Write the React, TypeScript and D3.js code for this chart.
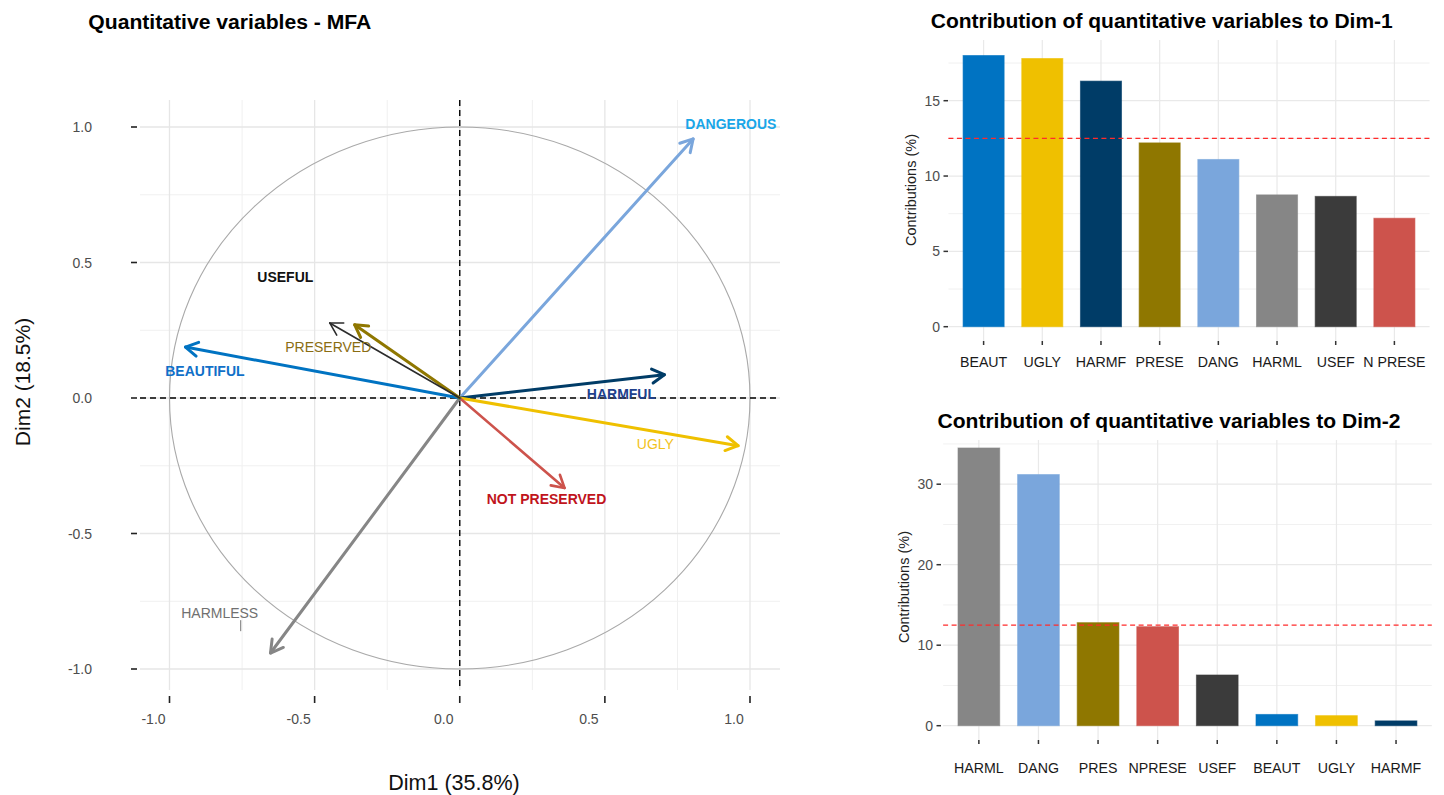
import { useEffect } from "react";
import * as d3 from "d3";

const W = 1444;
const H = 795;
const FONT = "'Liberation Sans', Arial, Helvetica, sans-serif";

// MFA variable coordinates
const varNames = ["DANGEROUS", "HARMFUL", "UGLY", "NOT PRESERVED", "HARMLESS", "BEAUTIFUL", "PRESERVED", "USEFUL"];
const dim1Coord = [0.804, 0.705, 0.959, 0.361, -0.652, -0.945, -0.362, -0.448];
const dim2Coord = [0.956, 0.086, -0.176, -0.332, -0.941, 0.188, 0.27, 0.277];
// where the (repelled) labels ended up, same units
const labelDim1 = [0.934, 0.557, 0.674, 0.299, -0.827, -0.878, -0.453, -0.601];
const labelDim2 = [1.011, 0.016, -0.169, -0.373, -0.794, 0.101, 0.187, 0.446];

const circleTicks = [-1, -0.5, 0, 0.5, 1];
const circleMinor = [-0.75, -0.25, 0.25, 0.75];

// contributions (%)
const dim1Cats = ["BEAUT", "UGLY", "HARMF", "PRESE", "DANG", "HARML", "USEF", "N PRESE"];
const dim1Contrib = [18.0, 17.8, 16.3, 12.2, 11.1, 8.75, 8.65, 7.2];
const dim1Ticks = [0, 5, 10, 15];
const dim1Minor = [2.5, 7.5, 12.5, 17.5];

const dim2Cats = ["HARML", "DANG", "PRES", "NPRESE", "USEF", "BEAUT", "UGLY", "HARMF"];
const dim2Contrib = [34.5, 31.2, 12.8, 12.3, 6.3, 1.4, 1.25, 0.6];
const dim2Ticks = [0, 10, 20, 30];
const dim2Minor = [5, 15, 25, 35];

const expectedContrib = 12.5;

const arrowColor: Record<string, string> = {
  DANGEROUS: "#7AA6DC",
  HARMFUL: "#003C67",
  UGLY: "#EFC000",
  "NOT PRESERVED": "#CD534C",
  HARMLESS: "#868686",
  BEAUTIFUL: "#0073C2",
  PRESERVED: "#8F7700",
  USEFUL: "#2b2b2b",
};
const labelColor: Record<string, string> = {
  DANGEROUS: "#19A6E8",
  HARMFUL: "#20408C",
  UGLY: "#F2C21A",
  "NOT PRESERVED": "#C0141C",
  HARMLESS: "#707070",
  BEAUTIFUL: "#1070C8",
  PRESERVED: "#8A6D12",
  USEFUL: "#111111",
};
const labelBold: Record<string, boolean> = {
  DANGEROUS: true,
  HARMFUL: true,
  UGLY: false,
  "NOT PRESERVED": true,
  HARMLESS: false,
  BEAUTIFUL: true,
  PRESERVED: false,
  USEFUL: true,
};
const barColor: Record<string, string> = {
  BEAUT: "#0073C2",
  UGLY: "#EFC000",
  HARMF: "#003C67",
  PRESE: "#8F7700",
  PRES: "#8F7700",
  DANG: "#7AA6DC",
  HARML: "#868686",
  USEF: "#3B3B3B",
  "N PRESE": "#CD534C",
  NPRESE: "#CD534C",
};

// plain hyphen for negatives, like R prints them
const fmt = d3.formatLocale({ decimal: ".", thousands: ",", grouping: [3], currency: ["", ""], minus: "-" }).format(".1f");

function Arrow({ x1, y1, x2, y2, color, width }) {
  const a = Math.atan2(y2 - y1, x2 - x1);
  const len = 14;
  const spread = (30 * Math.PI) / 180;
  const p1 = [x2 - len * Math.cos(a - spread), y2 - len * Math.sin(a - spread)];
  const p2 = [x2 - len * Math.cos(a + spread), y2 - len * Math.sin(a + spread)];
  return (
    <g stroke={color} strokeWidth={width} fill="none" strokeLinecap="round" strokeLinejoin="round">
      <line x1={x1} y1={y1} x2={x2} y2={y2} />
      <polyline points={`${p1[0]},${p1[1]} ${x2},${y2} ${p2[0]},${p2[1]}`} />
    </g>
  );
}

function CorrelationCircle() {
  const x = d3.scaleLinear().domain([-1, 1]).range([169.5, 750]);
  const y = d3.scaleLinear().domain([-1, 1]).range([669, 127]);
  const left = 140, right = 780, top = 100, bottom = 690;

  return (
    <g>
      <text x={88.3} y={29.3} fontSize={19.5} fontWeight="bold" fill="#000" textLength={283} lengthAdjust="spacingAndGlyphs">
        Quantitative variables - MFA
      </text>

      {circleMinor.map((v) => (
        <g key={"mn" + v} stroke="#f0f0f0" strokeWidth={1}>
          <line x1={x(v)} x2={x(v)} y1={top} y2={bottom} />
          <line x1={left} x2={right} y1={y(v)} y2={y(v)} />
        </g>
      ))}
      {circleTicks.map((v) => (
        <g key={"mj" + v} stroke="#e6e6e6" strokeWidth={1.3}>
          <line x1={x(v)} x2={x(v)} y1={top} y2={bottom} />
          <line x1={left} x2={right} y1={y(v)} y2={y(v)} />
        </g>
      ))}

      <ellipse
        cx={x(0)}
        cy={y(0)}
        rx={x(1) - x(0)}
        ry={y(0) - y(1)}
        fill="none"
        stroke="#a9a9a9"
        strokeWidth={1.1}
      />

      <line x1={x(0)} x2={x(0)} y1={top} y2={bottom} stroke="#000" strokeWidth={1.4} strokeDasharray="6,4" />
      <line x1={left} x2={right} y1={y(0)} y2={y(0)} stroke="#000" strokeWidth={1.4} strokeDasharray="6,4" />

      {varNames.map((n, i) => (
        <Arrow
          key={n}
          x1={x(0)}
          y1={y(0)}
          x2={x(dim1Coord[i])}
          y2={y(dim2Coord[i])}
          color={arrowColor[n]}
          width={n === "USEFUL" ? 1.6 : n === "NOT PRESERVED" ? 2.6 : 3}
        />
      ))}

      {varNames.map((n, i) => (
        <text
          key={"l" + n}
          x={x(labelDim1[i])}
          y={y(labelDim2[i])}
          textAnchor="middle"
          dominantBaseline="central"
          fontSize={14}
          fontWeight={labelBold[n] ? "bold" : "normal"}
          fill={labelColor[n]}
        >
          {n}
        </text>
      ))}
      {/* stray segment under the HARMLESS label */}
      <line
        x1={x(labelDim1[4]) + 21}
        x2={x(labelDim1[4]) + 21}
        y1={y(labelDim2[4]) + 7}
        y2={y(labelDim2[4]) + 18}
        stroke="#777"
        strokeWidth={1}
      />

      {circleTicks.map((v) => (
        <g key={"yt" + v}>
          <line x1={131} x2={137} y1={y(v)} y2={y(v)} stroke="#222" strokeWidth={1.6} />
          <text x={92} y={y(v)} textAnchor="end" dominantBaseline="central" fontSize={14} fill="#4d4d4d">
            {fmt(v)}
          </text>
        </g>
      ))}
      {circleTicks.map((v) => (
        <g key={"xt" + v}>
          <line x1={x(v)} x2={x(v)} y1={696} y2={703} stroke="#222" strokeWidth={1.6} />
          <text x={x(v) - 16} y={719} textAnchor="middle" dominantBaseline="central" fontSize={14} fill="#4d4d4d">
            {fmt(v)}
          </text>
        </g>
      ))}

      <text x={454} y={790} textAnchor="middle" fontSize={21.5} fill="#111">
        Dim1 (35.8%)
      </text>
      <text transform="translate(30,382) rotate(-90)" textAnchor="middle" fontSize={21} fill="#111">
        Dim2 (18.5%)
      </text>
    </g>
  );
}

function ContribBars({ cats, values, ticks, minor, x0, x1, yZero, yTickVal, yTickPx, top, bottom, title, titleX, titleW, titleY, tickLabelRight, yTitleX, yTitleY, labelY }) {
  const x = d3.scalePoint().domain(cats).range([x0, x1]).padding(0.6);
  const y = d3.scaleLinear().domain([0, yTickVal]).range([yZero, yTickPx]);
  const bw = x.step() * 0.7;

  return (
    <g>
      <text x={titleX} y={titleY} fontSize={19.5} fontWeight="bold" fill="#000" textLength={titleW} lengthAdjust="spacingAndGlyphs">
        {title}
      </text>

      {minor.map((v) => (
        <line key={"mn" + v} x1={x0} x2={x1} y1={y(v)} y2={y(v)} stroke="#f1f1f1" strokeWidth={1} />
      ))}
      {ticks.map((v) => (
        <line key={"mj" + v} x1={x0} x2={x1} y1={y(v)} y2={y(v)} stroke="#e9e9e9" strokeWidth={1.2} />
      ))}
      {cats.map((c) => (
        <line key={"vg" + c} x1={x(c)} x2={x(c)} y1={top} y2={bottom} stroke="#e9e9e9" strokeWidth={1.2} />
      ))}

      {cats.map((c, i) => (
        <rect
          key={"b" + c}
          x={x(c) - bw / 2}
          y={y(values[i])}
          width={bw}
          height={y(0) - y(values[i])}
          fill={barColor[c]}
          stroke={barColor[c]}
          strokeOpacity={0.6}
          strokeWidth={1}
        />
      ))}

      <line
        x1={x0}
        x2={x1}
        y1={y(expectedContrib)}
        y2={y(expectedContrib)}
        stroke="#FF2B2B"
        strokeWidth={1.4}
        strokeDasharray="5,3.5"
      />

      {ticks.map((v) => (
        <g key={"yt" + v}>
          <line x1={tickLabelRight + 3.5} x2={tickLabelRight + 8} y1={y(v)} y2={y(v)} stroke="#333" strokeWidth={1.5} />
          <text x={tickLabelRight} y={y(v)} textAnchor="end" dominantBaseline="central" fontSize={14} fill="#4d4d4d">
            {v}
          </text>
        </g>
      ))}

      {cats.map((c) => (
        <g key={"xt" + c}>
          <line x1={x(c)} x2={x(c)} y1={bottom} y2={bottom + 4} stroke="#333" strokeWidth={1.5} />
          <text x={x(c)} y={labelY} textAnchor="middle" dominantBaseline="central" fontSize={14.2} fill="#1a1a1a">
            {c}
          </text>
        </g>
      ))}

      <text
        transform={`translate(${yTitleX},${yTitleY}) rotate(-90)`}
        textAnchor="middle"
        fontSize={14.5}
        fill="#222"
      >
        Contributions (%)
      </text>
    </g>
  );
}

export default function App() {
  useEffect(() => {
    document.body.style.margin = "0";
  }, []);

  return (
    <svg width={W} height={H} style={{ display: "block", background: "#fff", fontFamily: FONT }}>
      <rect width={W} height={H} fill="#fff" />
      <CorrelationCircle />
      <ContribBars
        cats={dim1Cats}
        values={dim1Contrib}
        ticks={dim1Ticks}
        minor={dim1Minor}
        x0={948.4}
        x1={1429.6}
        yZero={326.7}
        yTickVal={15}
        yTickPx={100.7}
        top={40}
        bottom={341}
        title="Contribution of quantitative variables to Dim-1"
        titleX={930.8}
        titleW={462}
        titleY={27.5}
        tickLabelRight={940}
        yTitleX={916}
        yTitleY={190}
        labelY={362}
      />
      <ContribBars
        cats={dim2Cats}
        values={dim2Contrib}
        ticks={dim2Ticks}
        minor={dim2Minor}
        x0={943.1}
        x1={1431.8}
        yZero={725.7}
        yTickVal={30}
        yTickPx={484.2}
        top={440}
        bottom={740}
        title="Contribution of quantitative variables to Dim-2"
        titleX={937.5}
        titleW={463}
        titleY={428}
        tickLabelRight={933}
        yTitleX={909}
        yTitleY={587}
        labelY={768}
      />
    </svg>
  );
}
